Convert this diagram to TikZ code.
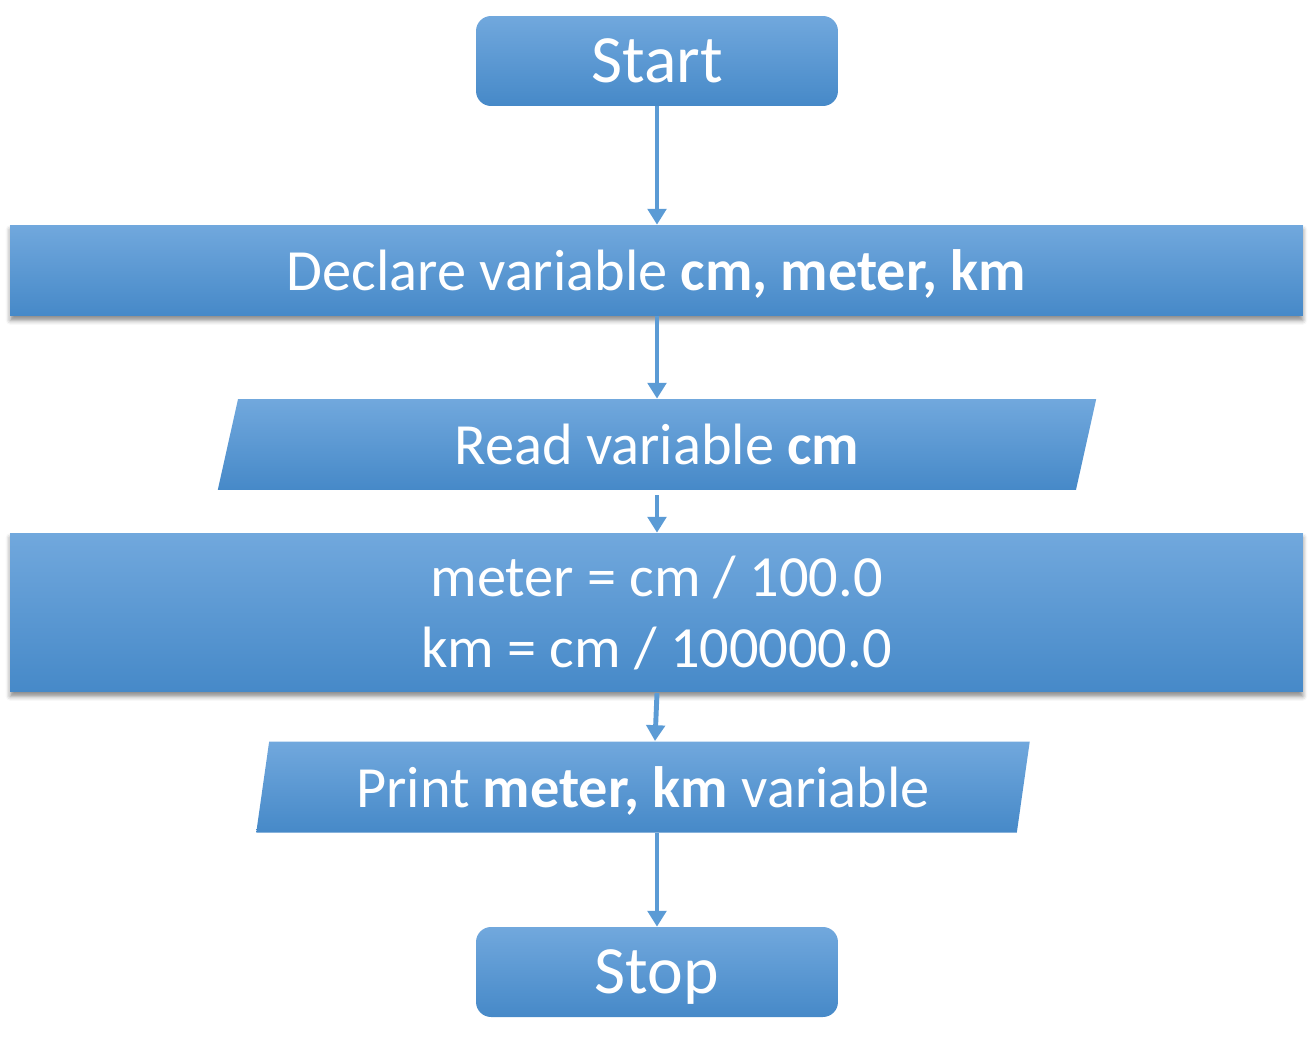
\documentclass[tikz,border=0pt]{standalone}
\usepackage{fontspec}
\setmainfont{Carlito}
\usepackage{tikz}
\usetikzlibrary{arrows.meta,shapes.geometric,shadows.blur}
\definecolor{boxtop}{HTML}{71A8DD}
\definecolor{boxmid}{HTML}{5B9CD9}
\definecolor{boxbot}{HTML}{4689C8}
\definecolor{linkblue}{HTML}{5B9BD5}

\begin{document}
\begin{tikzpicture}[x=0.02cm, y=-0.02cm,
  fill box/.style={top color=boxtop, middle color=boxmid, bottom color=boxbot, draw=none,
    text=white, inner sep=0pt, font=\fontsize{33.2}{40.4}\selectfont},
  terminal/.style={fill box, rounded corners=0.3cm, minimum width=7.24cm, minimum height=1.8cm,
    text depth=0pt, font=\fontsize{38.5}{46}\selectfont},
  process/.style={fill box, minimum width=25.86cm, align=center,
    blur shadow={shadow xshift=0pt, shadow yshift=-2.5pt, shadow blur radius=2.5pt, shadow opacity=45}},
  io/.style={fill box, trapezium, trapezium left angle=76.4, trapezium right angle=103.6,
    trapezium stretches=true, minimum height=1.82cm, text depth=0pt},
  link/.style={draw=linkblue, line width=2.8pt, -{Triangle[width=10.5pt,length=9pt]}}]
%%%%% frame %%%%%
\useasboundingbox (0,0) rectangle (1313,1052);
%%%%% boxes %%%%%
\node[terminal] (start) at (657,61) {Start};
\node[process, minimum height=1.82cm, text depth=0pt] (declare) at (656.5,270.5) {Declare variable \textbf{cm, meter, km}};
\node[io, minimum width=17.6cm] (read) at (657,444.5) {Read variable \textbf{cm}};
\node[process, minimum height=3.18cm] (calc) at (656.5,612.5) {\raisebox{-3pt}{meter = cm / 100.0}\\\raisebox{-3pt}{km = cm / 100000.0}};
\node[io, minimum width=15.48cm] (print) at (643,787) {Print \textbf{meter, km} variable};
\node[terminal] (stop) at (657,972) {Stop};
%%%%% arrows %%%%%
\coordinate (c1) at (657,693);
\coordinate (c2) at (655,741);
\draw[link] (start.south) -- (start.south |- declare.north);
\draw[link] (start.south |- declare.south) -- (start.south |- read.north);
\draw[link, shorten <=2.8pt] (start.south |- read.south) -- (start.south |- calc.north);
\draw[link] (c1) -- (c2);
\draw[link] (stop.north |- print.south) -- (stop.north);
\end{tikzpicture}
\end{document}
